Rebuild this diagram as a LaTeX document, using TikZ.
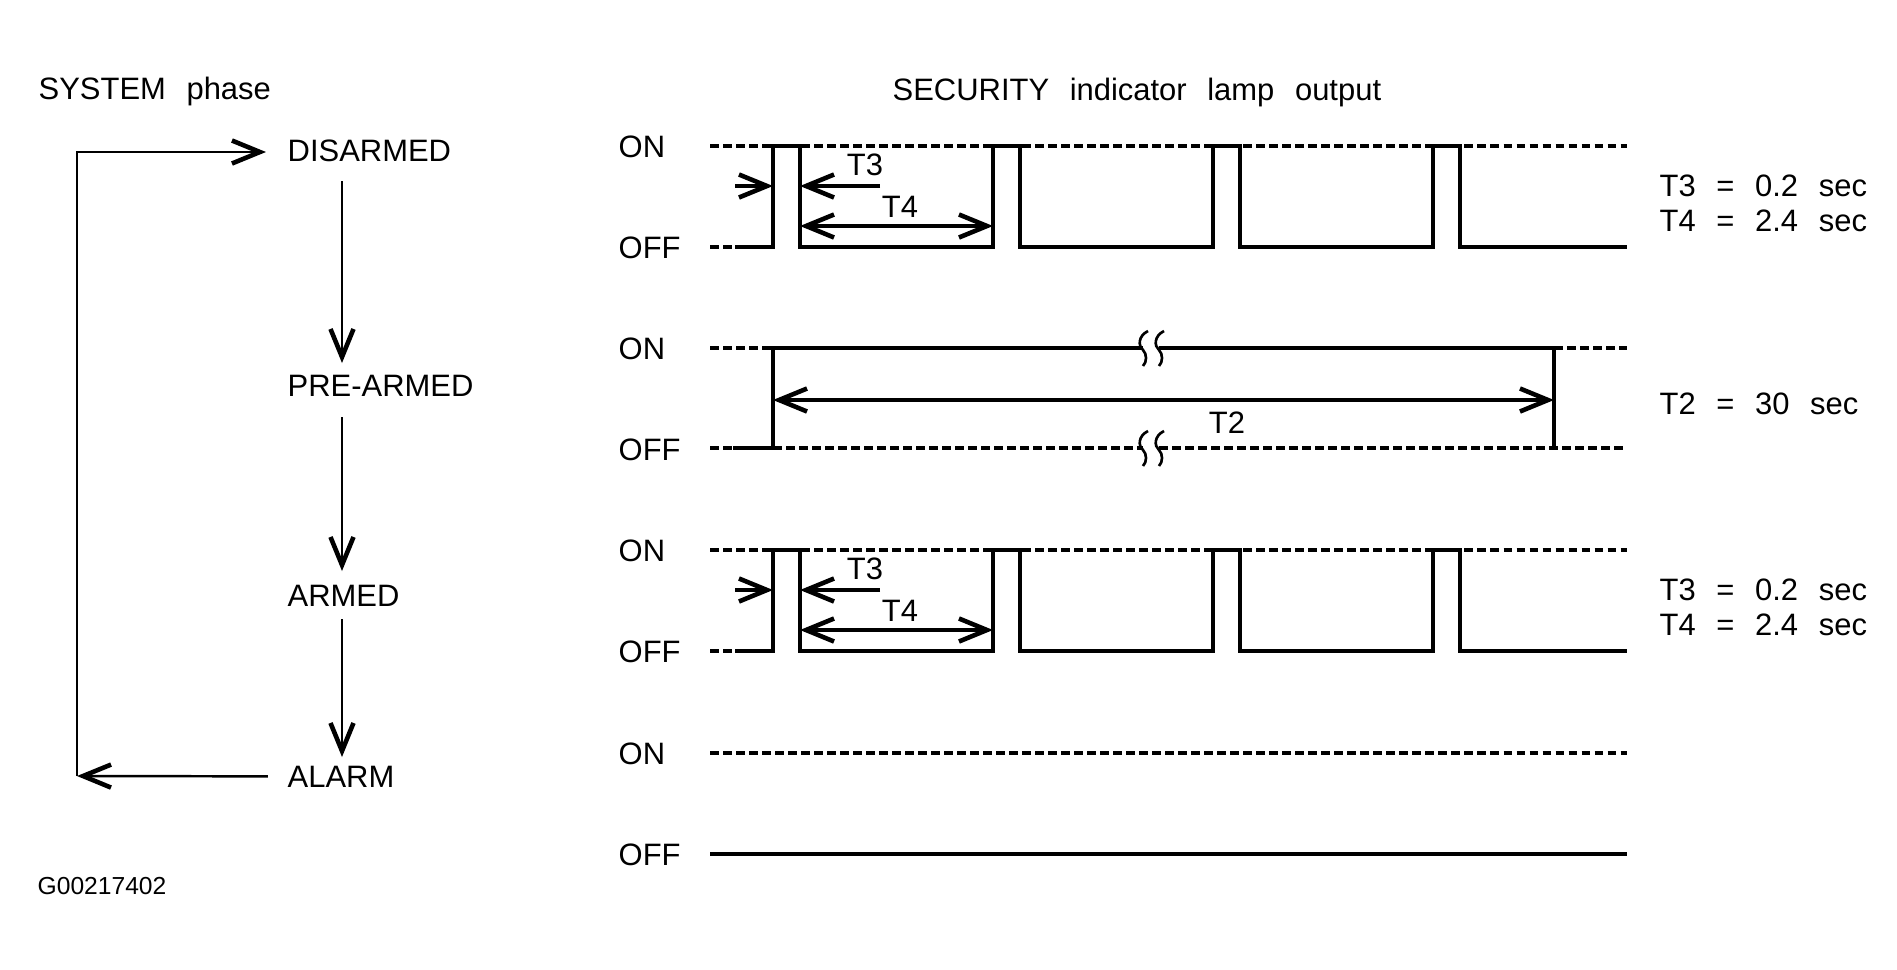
\documentclass[tikz,border=0pt]{standalone}
\usepackage{fontspec}
\setmainfont{Liberation Sans}[WordSpace=2.4]
\usetikzlibrary{arrows.meta}
\begin{document}
\begin{tikzpicture}[x=0.01cm,y=-0.01cm,
  every node/.style={font=\fontsize{8.8}{10}\selectfont, inner sep=0pt},
  txt/.style={anchor=base west},
  tip/.tip={Straight Barb[length=0.28cm,width=0.23cm,line width=1.3pt]},
  flow/.style={line width=0.7pt, -tip},
  wave/.style={line width=0.9pt, line join=miter},
  lvl/.style={line width=0.95pt, dash pattern=on 0.085cm off 0.045cm},
  dimr/.style={line width=1pt, -tip},
  dimb/.style={line width=1pt, tip-tip},
  brk/.style={line width=0.75pt}]
\useasboundingbox (0,0) rectangle (1897,969);
% titles
\node[txt] (sys) at (38,99) {SYSTEM phase};
\node[txt] (sec) at (892,100) {SECURITY indicator lamp output};
% phases
\node[txt] (dis) at (287,161) {DISARMED};
\node[txt] (pre) at (287,396) {PRE-ARMED};
\node[txt] (arm) at (287,606) {ARMED};
\node[txt] (alm) at (287,787) {ALARM};
\node[txt, font=\fontsize{7}{8}\selectfont] (gid) at (37,894) {G00217402};
% flow connectors
\coordinate (d0) at (342,181); \coordinate (d1) at (342,363);
\coordinate (p0) at (342,417); \coordinate (p1) at (342,571);
\coordinate (a0) at (342,619); \coordinate (a1) at (342,757);
\coordinate (lb) at (77,776);  \coordinate (lt) at (77,152);
\draw[flow] (d0) -- (d1);
\draw[flow] (p0) -- (p1);
\draw[flow] (a0) -- (a1);
\draw[flow] ([xshift=-0.19cm]alm.west) -- (lb);
\draw[flow] (lb) -- (lt) -- ([xshift=-0.21cm]dis.west |- lt);
% ON / OFF labels
\foreach \n/\y in {1/146,2/348,3/550,4/753}{
  \node[txt] (on\n) at (618,\y+11) {ON};
  \node[txt] (off\n) at (618,\y+112) {OFF};
}
% rows 1 and 3 : pulse trains
\foreach \o/\r in {0/1,404/3}{
  \draw[lvl] (710,146+\o) -- (1627,146+\o);
  \draw[lvl] (710,247+\o) -- (735,247+\o);
  \draw[wave] (735,247+\o) -- (773,247+\o) -- (773,146+\o) -- (800,146+\o) -- (800,247+\o)
    -- (993,247+\o) -- (993,146+\o) -- (1020,146+\o) -- (1020,247+\o)
    -- (1213,247+\o) -- (1213,146+\o) -- (1240,146+\o) -- (1240,247+\o)
    -- (1433,247+\o) -- (1433,146+\o) -- (1460,146+\o) -- (1460,247+\o) -- (1627,247+\o);
  \draw[dimr] (735,186+\o) -- (773,186+\o);
  \draw[dimr] (880,186+\o) -- (800,186+\o);
  \draw[dimb] (800,226+\o) -- (993,226+\o);
  \node (t3l\r) at (865,165+\o) {T3};
  \node (t4l\r) at (900,207+\o) {T4};
  \node[txt] (t3v\r) at (1659,196+\o) {T3 = 0.2 sec};
  \node[txt] (t4v\r) at (1659,231+\o) {T4 = 2.4 sec};
}
% row 2 : 30 s on
\draw[lvl] (710,348) -- (773,348);
\draw[lvl] (710,448) -- (733,448);
\draw[wave] (733,448) -- (773,448) -- (773,348) -- (1143,348);
\draw[wave] (1159,348) -- (1554,348) -- (1554,448);
\draw[lvl] (773,448) -- (1143,448);
\draw[lvl] (1159,448) -- (1627,448);
\draw[lvl] (1554,348) -- (1627,348);
\foreach \x in {1143,1159}{
  \foreach \y in {348,448}{
    \draw[brk] (\x+5,\y-17) .. controls (\x-5,\y-12) and (\x-5,\y-2) .. (\x,\y+2)
      .. controls (\x+4,\y+6) and (\x+4,\y+14) .. (\x,\y+18);
  }
}
\draw[dimb] (773,400) -- (1554,400);
\node (t2l) at (1227,423) {T2};
\node[txt] (t2v) at (1659,414) {T2 = 30 sec};
% row 4 : off
\draw[lvl] (710,753) -- (1627,753);
\draw[wave] (710,854) -- (1627,854);
\end{tikzpicture}
\end{document}
